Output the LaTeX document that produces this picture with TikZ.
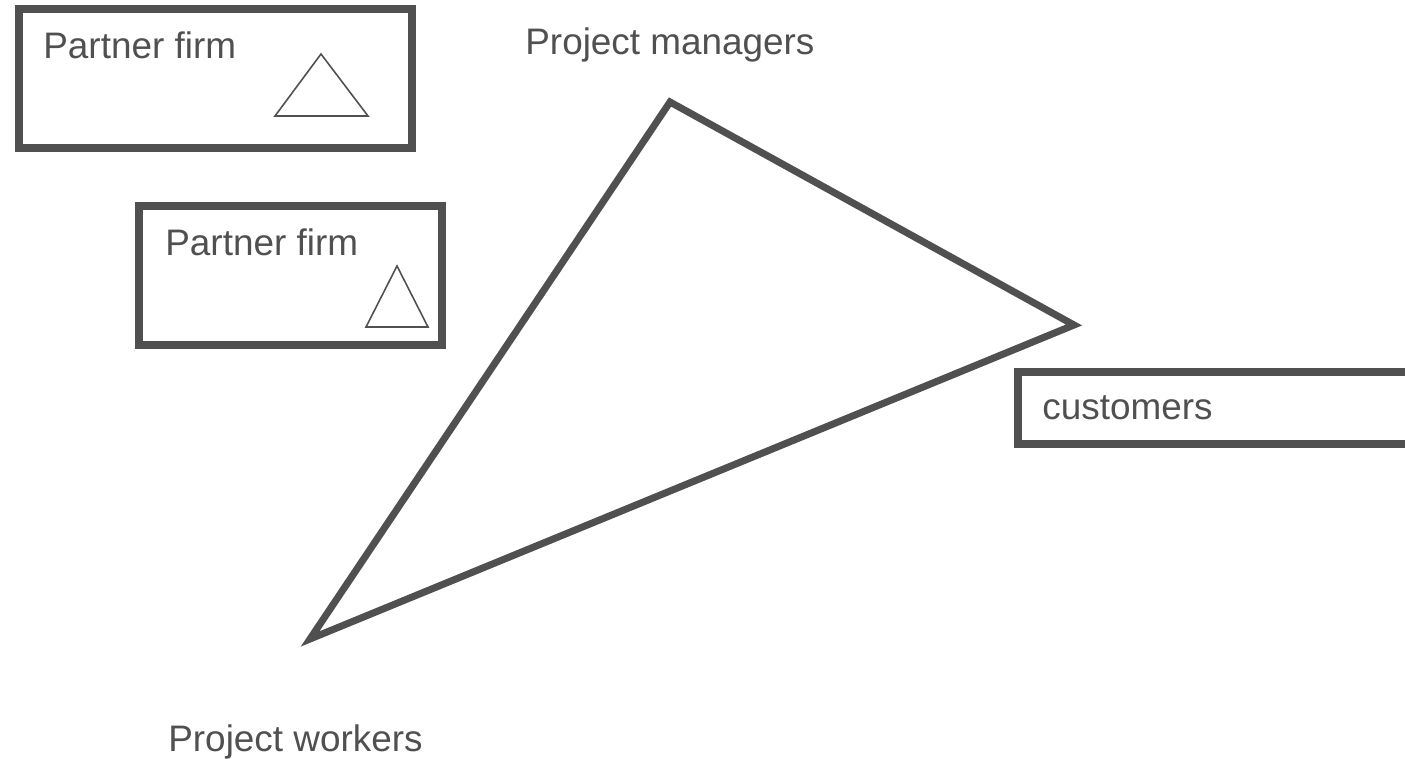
\documentclass[tikz,border=0pt]{standalone}
\usepackage[rgb]{xcolor}
\usepackage{fontspec}
\setmainfont{Liberation Sans}
\usepackage{tikz}

\definecolor{darkline}{HTML}{505050}

\tikzset{
  firmbox/.style = {draw = darkline, line width = 4.4pt, inner sep = 0pt},
  label/.style = {anchor = base west, inner sep = 0pt, text = darkline,
                  font = \fontsize{21}{25}\selectfont},
  mark triangle/.style = {draw = darkline, line width = 0.9pt, line join = miter}
}

\begin{document}
\begin{tikzpicture}[x=0.02cm, y=-0.02cm]

\useasboundingbox (0,0) rectangle (1405,759);
\clip (0,0) rectangle (1405,759);

% partner firms, each one with its little triangle
\path
(215.5,78.5) node [firmbox, minimum width=7.86cm, minimum height=2.78cm] (firmA) {}
(290.5,275.5) node [firmbox, minimum width=6.06cm, minimum height=2.78cm] (firmB) {};

\path
(43,59) node [label] (firmAtext) {Partner firm}
(165,256) node [label] (firmBtext) {Partner firm};

\draw [mark triangle] (321,54) -- (275,116) -- (368,116) -- cycle;
\draw [mark triangle] (397,266) -- (366,327) -- (428,327) -- cycle;

% customers box runs off the right edge
\path
(1258.5,408) node [firmbox, minimum width=9.63cm, minimum height=1.44cm] (customerbox) {};
\path
(1042,420) node [label] (customertext) {customers};

% big project triangle
\coordinate (managers) at (670,102);
\coordinate (customerside) at (1074,325);
\coordinate (workers) at (310,639);
\draw [draw = darkline, line width = 4pt, line join = miter]
(managers) -- (customerside) -- (workers) -- cycle;

\path
(525,55) node [label] (managertext) {Project managers}
(168,751) node [label] (workertext) {Project workers};

\end{tikzpicture}
\end{document}
